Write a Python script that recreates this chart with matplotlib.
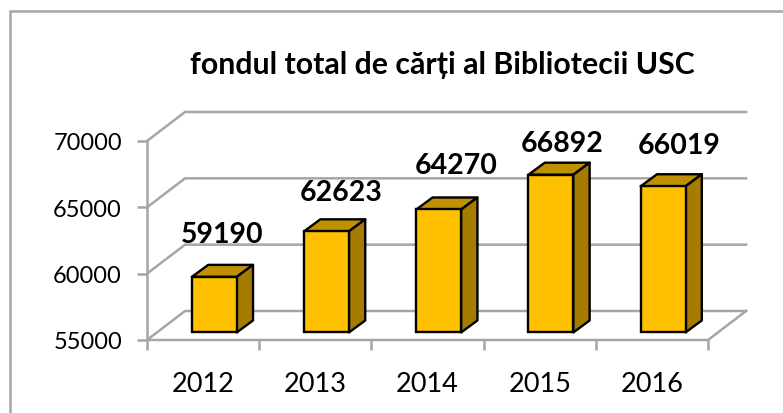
import matplotlib
matplotlib.use("Agg")
import matplotlib.pyplot as plt
from matplotlib.patches import Polygon, Rectangle

plt.rcParams["font.family"] = ["Lato", "DejaVu Sans"]

# data
years = ["2012", "2013", "2014", "2015", "2016"]
books = [59190, 62623, 64270, 66892, 66019]
y_ticks = [55000, 60000, 65000, 70000]
title = "fondul total de cărți al Bibliotecii USC"

W, H = 783, 414
GRID = "#a6a6a6"
FRONT = "#ffc000"
TOP = "#bf9000"
SIDE = "#a67c00"

# wall depth in data units
DEPTH_X = 0.339
DEPTH_Y = 2186
# bar placement inside the depth, bar width and depth
BAR_POS = 0.26
BAR_W = 0.40
BAR_DX = 0.145
BAR_DY = 905

# hand placed value labels in the original, offset from bar centre (pixels)
LABEL_DX = [8, 15, 17, 11, 16]
LABEL_LIFT = [43, 39, 44, 32, 41]


def px_axes(fig, left, right, top, bottom):
    return fig.add_axes([left / W, 1 - bottom / H, (right - left) / W, (bottom - top) / H])


fig = plt.figure(figsize=(W / 100, H / 100), dpi=100, facecolor="white")
fig.add_artist(Rectangle((9.5 / W, -0.02), 2, 1.0 - 11.5 / H + 0.02, transform=fig.transFigure,
                         fill=False, ec=GRID, lw=1.8))

ax = px_axes(fig, 147, 708, 142, 341)
ax.set_xlim(0, 5)
ax.set_ylim(55000, 70000)
ax.patch.set_visible(False)
for s in ax.spines.values():
    s.set_visible(False)

# back wall and side wall lines
for v in y_ticks:
    ax.plot([0, DEPTH_X, 5 + DEPTH_X], [v, v + DEPTH_Y, v + DEPTH_Y], color=GRID, lw=1.8,
            clip_on=False, solid_joinstyle="miter", zorder=1)
ax.plot([0, 0], [55000, 70000], color=GRID, lw=1.8, clip_on=False, zorder=1)
ax.plot([0, 5, 5 + DEPTH_X], [55000, 55000, 55000 + DEPTH_Y], color=GRID, lw=1.8,
        clip_on=False, zorder=1)

# bars
for i, val in enumerate(books):
    x0 = i + 0.40
    x1 = x0 + BAR_W
    y0 = 55000 + BAR_POS * DEPTH_Y
    y1 = val + BAR_POS * DEPTH_Y
    ax.bar(x0, y1 - y0, width=BAR_W, bottom=y0, align="edge", color=FRONT, edgecolor="black",
           linewidth=1.7, zorder=4, clip_on=False)
    ax.add_patch(Polygon([(x0, y1), (x1, y1), (x1 + BAR_DX, y1 + BAR_DY), (x0 + BAR_DX, y1 + BAR_DY)],
                         fc=TOP, ec="black", lw=1.7, zorder=3, clip_on=False, joinstyle="round"))
    ax.add_patch(Polygon([(x1, y0), (x1 + BAR_DX, y0 + BAR_DY), (x1 + BAR_DX, y1 + BAR_DY), (x1, y1)],
                         fc=SIDE, ec="black", lw=1.7, zorder=3, clip_on=False, joinstyle="round"))
    ax.annotate(str(val), xy=(x0 + BAR_W / 2, y1), xytext=(LABEL_DX[i] * 0.72, LABEL_LIFT[i] * 0.72),
                textcoords="offset points", ha="center", va="center", fontsize=20.5,
                fontweight="bold", color="black", zorder=5, annotation_clip=False)

ax.set_xticks(range(6))
ax.set_xticklabels([])
ax.set_yticks(y_ticks)
ax.set_yticklabels([str(v) for v in y_ticks], fontsize=17)
ax.tick_params(axis="both", color=GRID, width=1.8, length=7)
ax.tick_params(axis="y", pad=11)
for i, y in enumerate(years):
    ax.text(i + 0.5, 55000 - 3300, y, ha="center", va="center", fontsize=19.5)

fig.text(442 / W, 1 - 65 / H, title, ha="center", va="center", fontsize=21.8, fontweight="bold")

fig.savefig("out.png", dpi=100)
